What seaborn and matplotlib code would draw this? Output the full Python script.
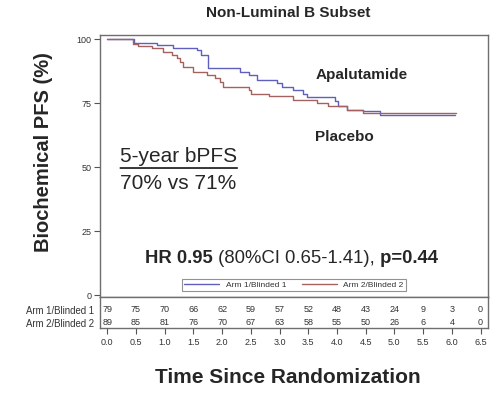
import numpy as np
import pandas as pd
import matplotlib
matplotlib.use('Agg')
import matplotlib.pyplot as plt
import seaborn as sns

# KM curves (step points: time in years, survival %)
apa_time = [0.0, 0.47, 0.86, 1.15, 1.56, 1.64, 1.76, 2.31, 2.46, 2.60, 2.95, 3.04,
            3.24, 3.41, 3.47, 3.97, 4.02, 4.17, 4.46, 4.75, 6.05]
apa_surv = [100, 98.7, 97.7, 96.8, 95.9, 93.9, 88.7, 87.4, 86.1, 84.2, 82.9, 81.3,
            80.1, 78.8, 77.5, 75.8, 73.8, 72.5, 71.9, 70.5, 70.5]
pbo_time = [0.0, 0.44, 0.54, 0.77, 0.97, 1.12, 1.21, 1.27, 1.32, 1.50, 1.73, 1.88,
            1.96, 2.02, 2.46, 2.51, 2.81, 3.24, 3.65, 3.85, 4.17, 4.46, 6.08]
pbo_surv = [100, 98.4, 97.5, 96.5, 95.2, 93.9, 92.6, 91.3, 89.4, 87.4, 86.1, 84.8,
            83.5, 81.3, 80.3, 78.8, 77.7, 76.4, 75.1, 73.8, 72.5, 71.2, 71.2]

arm_labels = ['Arm 1/Blinded 1', 'Arm 2/Blinded 2']
risk_times = [0.0, 0.5, 1.0, 1.5, 2.0, 2.5, 3.0, 3.5, 4.0, 4.5, 5.0, 5.5, 6.0, 6.5]
risk_arm1 = [79, 75, 70, 66, 62, 59, 57, 52, 48, 43, 24, 9, 3, 0]
risk_arm2 = [89, 85, 81, 76, 70, 67, 63, 58, 55, 50, 26, 6, 4, 0]

blue = '#5f5fbe'
red = '#a4615f'

sns.set_style('white')
plt.rcParams['font.family'] = ['Liberation Sans', 'DejaVu Sans']

df = pd.concat([
    pd.DataFrame({'time': apa_time, 'surv': apa_surv, 'arm': arm_labels[0]}),
    pd.DataFrame({'time': pbo_time, 'surv': pbo_surv, 'arm': arm_labels[1]}),
])

fig = plt.figure(figsize=(5, 3.94), dpi=100)
ax = fig.add_axes([0.2, 0.246, 0.776, 0.665])
axr = fig.add_axes([0.2, 0.1675, 0.776, 0.0785], sharex=ax)

sns.lineplot(data=df, x='time', y='surv', hue='arm', palette=[blue, red],
             drawstyle='steps-post', lw=1.0, ax=ax, legend=True)

ax.set_xlim(-0.127, 6.63)
ax.set_ylim(-0.8, 101.7)
ax.set_yticks([0, 25, 50, 75, 100])
ax.set_xlabel('')
ax.set_ylabel('')
ax.tick_params(axis='y', direction='out', length=4, width=0.8, labelsize=6.5,
               labelcolor='#333333', color='#555555', pad=2, left=True)
ax.tick_params(axis='x', bottom=False, labelbottom=False)
for s in ax.spines.values():
    s.set_color('#6e6e6e')
    s.set_linewidth(1.0)

leg = ax.legend(loc='lower center', bbox_to_anchor=(0.5, 0.008), ncol=2,
                fontsize=6, handlelength=4.2, frameon=True, fancybox=False,
                edgecolor='#777777', borderpad=0.25, columnspacing=1.8,
                handletextpad=0.8)
leg.get_frame().set_linewidth(0.8)
for t in leg.get_texts():
    t.set_color('#333333')

ax.text(3.62, 86, 'Apalutamide', fontsize=11, fontweight='bold', va='center', ha='left')
ax.text(3.62, 61.8, 'Placebo', fontsize=11, fontweight='bold', va='center', ha='left')

t5 = ax.text(0.225, 52, '5-year bPFS', fontsize=15, va='baseline', ha='left')
ax.annotate('', xy=(0, -0.1), xycoords=t5, xytext=(1, -0.1), textcoords=t5,
            arrowprops=dict(arrowstyle='-', lw=1.1, color='black', shrinkA=0, shrinkB=0))
ax.text(0.225, 41.5, '70% vs 71%', fontsize=15, va='baseline', ha='left')

h1 = ax.text(0.66, 12.6, 'HR 0.95', fontsize=13.3, fontweight='bold', va='baseline', ha='left')
h2 = ax.annotate(' (80%CI 0.65-1.41),', xy=(1, 0), xycoords=h1, fontsize=13.3,
                 va='bottom', ha='left')
ax.annotate(' p=0.44', xy=(1, 0), xycoords=(h2, h1), fontsize=13.3,
            fontweight='bold', va='bottom', ha='left')

# number at risk table
for x, n1, n2 in zip(risk_times, risk_arm1, risk_arm2):
    axr.text(x, 0, str(n1), fontsize=6.5, color='#333333', ha='center', va='center')
    axr.text(x, 1, str(n2), fontsize=6.5, color='#333333', ha='center', va='center')
axr.set_ylim(1.4, -1.0)
axr.set_yticks([0, 1])
axr.set_yticklabels(arm_labels)
axr.tick_params(axis='y', length=0, labelsize=6.9, labelcolor='#333333', pad=4)
axr.set_xticks(risk_times)
axr.set_xticklabels(['%.1f' % v for v in risk_times])
axr.tick_params(axis='x', direction='out', length=4, width=0.8, labelsize=6.5,
                labelcolor='#333333', color='#555555', pad=3, bottom=True)
for s in axr.spines.values():
    s.set_color('#6e6e6e')
    s.set_linewidth(1.0)

fig.text(0.576, 0.968, 'Non-Luminal B Subset', fontsize=11, fontweight='bold',
         ha='center', va='center')
fig.text(0.087, 0.614, 'Biochemical PFS (%)', fontsize=14.5, fontweight='bold',
         ha='center', va='center', rotation=90)
fig.text(0.576, 0.043, 'Time Since Randomization', fontsize=15, fontweight='bold',
         ha='center', va='center')

fig.savefig('out.png', dpi=100)
